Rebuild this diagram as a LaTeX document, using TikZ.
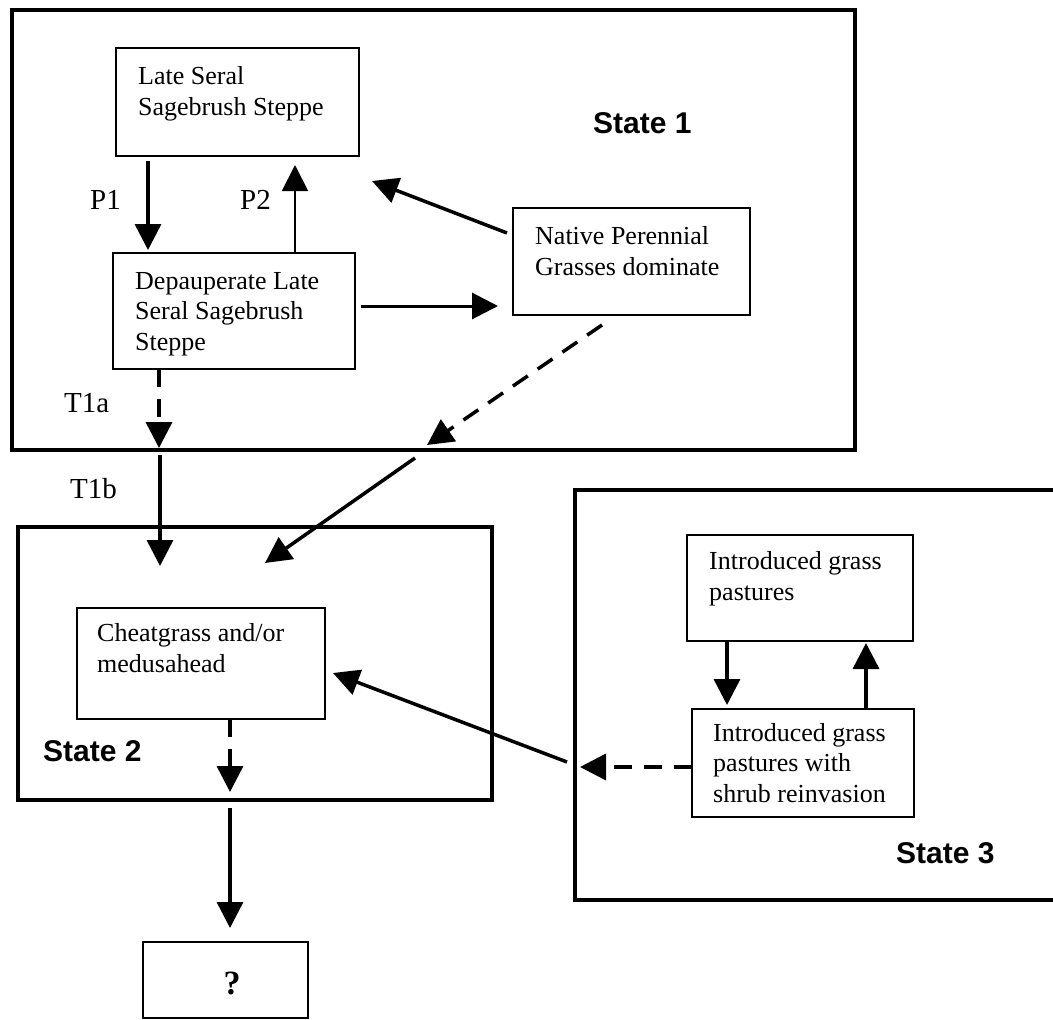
\documentclass[tikz,border=0pt]{standalone}
\usepackage{fontspec}
\setmainfont{Liberation Serif}
\newfontfamily\headfont{Liberation Sans}
\usetikzlibrary{arrows.meta,calc}

\tikzset{
  frame/.style={draw, line width=4.5pt, inner sep=0pt, outer sep=0pt, anchor=north west},
  statebox/.style={draw, line width=2.5pt, inner sep=0pt, outer sep=0pt, anchor=north west},
  % placed by the baseline of the last line
  boxtext/.style={anchor=base west, inner sep=0pt, align=left,
    font=\fontsize{26}{30.5}\selectfont},
  tlabel/.style={anchor=base west, inner sep=0pt, font=\fontsize{29}{34}\selectfont},
  statelabel/.style={anchor=base west, inner sep=0pt, font=\headfont\bfseries\fontsize{30}{36}\selectfont},
  arr/.style={line width=3.5pt, -{Triangle[length=26pt,width=26pt]}},
  thinarr/.style={line width=2pt, -{Triangle[length=26pt,width=26pt]}},
  dasharr/.style={arr, dash pattern=on 18pt off 12pt},
}

\begin{document}
\begin{tikzpicture}[x=1pt, y=-1pt]
  \path[fill=white, use as bounding box] (0,0) rectangle (1053,1020);

  % state frames
  \node[frame, minimum width=843pt, minimum height=440pt] (s1) at (12,10) {};
  \node[frame, minimum width=474pt, minimum height=273pt] (s2) at (18,527) {};
  \node[frame, minimum width=490pt, minimum height=410pt] (s3) at (575,490) {};

  % community phases
  \node[statebox, minimum width=243pt, minimum height=108pt] (late) at (116,48) {};
  \node[statebox, minimum width=242pt, minimum height=116pt] (dep) at (113,253) {};
  \node[statebox, minimum width=237pt, minimum height=107pt] (native) at (513,208) {};
  \node[statebox, minimum width=248pt, minimum height=111pt] (cheat) at (77,608) {};
  \node[statebox, minimum width=226pt, minimum height=106pt] (intro) at (687,535) {};
  \node[statebox, minimum width=222pt, minimum height=108pt] (introshrub) at (692,709) {};
  \node[statebox, minimum width=165pt, minimum height=76pt] (unknown) at (143,942) {};

  % box texts
  \node[boxtext] (lateT) at (138,115) {Late Seral\\Sagebrush Steppe};
  \node[boxtext] (depT) at (135,350) {Depauperate Late\\Seral Sagebrush\\Steppe};
  \node[boxtext] (nativeT) at (535,275) {Native Perennial\\Grasses dominate};
  \node[boxtext] (cheatT) at (97,672) {Cheatgrass and/or\\medusahead};
  \node[boxtext] (introT) at (709,600) {Introduced grass\\pastures};
  \node[boxtext] (introshrubT) at (713,802) {Introduced grass\\pastures with\\shrub reinvasion};
  \node[anchor=base, inner sep=0pt, font=\bfseries\fontsize{34}{40}\selectfont] (unknownT) at (232,994) {?};

  % state labels
  \node[statelabel] (s1L) at (593,133) {State 1};
  \node[statelabel] (s2L) at (43,761) {State 2};
  \node[statelabel] (s3L) at (896,863) {State 3};

  % pathway and transition labels
  \node[tlabel] (p1L) at (90,209) {P1};
  \node[tlabel] (p2L) at (240,209) {P2};
  \node[tlabel] (t1aL) at (64,412) {T1a};
  \node[tlabel] (t1bL) at (70,498) {T1b};

  % community pathways within State 1
  \draw[arr] ($(late.south west)+(32,5)$) -- ($(dep.north west)+(35,-3)$);
  \draw[thinarr] ($(dep.north west)+(182,0)$) -- ($(late.south west)+(179,9)$);
  \draw[arr] ($(native.north west)+(-6,25)$) -- ($(late.south east)+(13,25)$);
  \draw[arr, line width=3pt] ($(dep.north east)+(6,53)$) -- ($(native.north west)+(-15,98)$);

  % transitions out of State 1
  \draw[dasharr] ($(dep.south west)+(46,0)$) -- ($(s1.south west)+(147,-2)$);
  \draw[arr] ($(s1.south west)+(148,5)$) -- ($(s2.north west)+(142,39)$);
  \draw[dasharr] ($(native.south west)+(89,10)$) -- ($(s1.south west)+(415,-5)$);
  \draw[arr] ($(s1.south west)+(403,8)$) -- ($(s2.north west)+(247,36)$);

  % State 3 pathways and transition to State 2
  \draw[arr] ($(intro.south west)+(40,0)$) -- ($(introshrub.north west)+(35,-4)$);
  \draw[arr] ($(introshrub.north west)+(174,0)$) -- ($(intro.south west)+(179,2)$);
  \draw[dasharr] ($(introshrub.north west)+(0,58)$) -- ($(s3.north west)+(5,277)$);
  \draw[arr] ($(s3.north west)+(-8,272)$) -- ($(cheat.north east)+(8,65)$);

  % State 2 onward
  \draw[dasharr] ($(cheat.south west)+(153,0)$) -- ($(s2.south west)+(212,-8)$);
  \draw[arr] ($(s2.south west)+(212,8)$) -- ($(unknown.north west)+(87,-14)$);
\end{tikzpicture}
\end{document}
